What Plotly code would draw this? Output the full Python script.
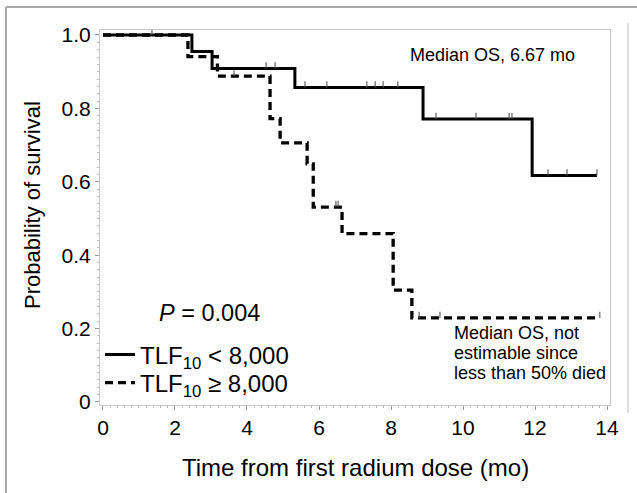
import plotly.graph_objects as go

# ---- data ----
solid_times = [0, 2.47, 3.03, 5.33, 8.89, 11.92, 13.72]
solid_surv = [1.0, 0.955, 0.909, 0.857, 0.771, 0.617, 0.617]
solid_censor = [1.36, 4.53, 4.78, 5.61, 6.22, 7.33, 7.56, 7.78, 8.19,
                9.25, 10.36, 11.28, 11.36, 12.36, 12.89, 13.72]

dashed_times = [0, 2.36, 3.18, 4.64, 4.92, 5.67, 5.84, 6.64, 8.06, 8.58, 13.8]
dashed_surv = [1.0, 0.941, 0.888, 0.772, 0.706, 0.649, 0.531, 0.459, 0.305, 0.229, 0.229]
dashed_censor = [3.64, 6.47, 6.53, 8.78, 9.36, 13.8]

x_ticks = [0, 2, 4, 6, 8, 10, 12, 14]
y_ticks = [0, 0.2, 0.4, 0.6, 0.8, 1.0]
y_ticktext = ["0", "0.2", "0.4", "0.6", "0.8", "1.0"]

name_low = "TLF<sub>10</sub> &lt; 8,000"
name_high = "TLF<sub>10</sub> ≥ 8,000"
note_lines = ["Median OS, not", "estimable since", "less than 50% died"]


def step_value(times, surv, t):
    v = surv[0]
    for ti, si in zip(times, surv):
        if ti <= t:
            v = si
    return v


FONT = "Arial, Liberation Sans, sans-serif"
fig = go.Figure()

fig.add_trace(go.Scatter(x=solid_times, y=solid_surv, mode="lines", line_shape="hv",
                         line=dict(color="black", width=3), name=name_low,
                         legend="legend"))
fig.add_trace(go.Scatter(x=dashed_times, y=dashed_surv, mode="lines", line_shape="hv",
                         line=dict(color="black", width=3.3, dash="8px,5px"), name=name_high,
                         legend="legend2"))

for times, surv, cens in [(solid_times, solid_surv, solid_censor),
                          (dashed_times, dashed_surv, dashed_censor)]:
    fig.add_trace(go.Scatter(
        x=cens, y=[step_value(times, surv, c) for c in cens], mode="markers",
        marker=dict(size=1, color="rgba(0,0,0,0)"),
        error_y=dict(type="data", symmetric=False, array=[0.017] * len(cens),
                     arrayminus=[0] * len(cens), width=0, thickness=1.1, color="#555"),
        showlegend=False, hoverinfo="skip"))

W, H = 637, 493
L, R, T, B = 100, 27, 30, 88
pw, ph = W - L - R, H - T - B


def px(xp):
    return (xp - L) / pw


def py(yp):
    return (H - B - yp) / ph


legend_common = dict(xanchor="left", yanchor="middle", bgcolor="rgba(0,0,0,0)",
                     font=dict(size=24, family=FONT), itemwidth=30)

annotations = [
    dict(text="Probability of survival", xref="paper", yref="paper",
         x=px(32), y=py(205), xanchor="center", yanchor="middle", textangle=-90,
         showarrow=False, font=dict(size=22)),
    dict(text="Time from first radium dose (mo)", xref="paper", yref="paper",
         x=px(355), y=py(467), xanchor="center", yanchor="middle", showarrow=False,
         font=dict(size=24)),
    dict(text="Median OS, 6.67 mo", xref="paper", yref="paper",
         x=px(492), y=py(55), xanchor="center", yanchor="middle", showarrow=False,
         font=dict(size=18)),
    dict(text="<i>P</i> = 0.004", xref="paper", yref="paper",
         x=px(209), y=py(313), xanchor="center", yanchor="middle", showarrow=False,
         font=dict(size=23.5)),
]
for i, line in enumerate(note_lines):
    annotations.append(dict(text=line, xref="paper", yref="paper",
                            x=px(452), y=py(333 + 20 * i), xanchor="left",
                            yanchor="middle", showarrow=False, font=dict(size=18)))

fig.update_layout(
    width=W, height=H,
    margin=dict(l=L, r=R, t=T, b=B),
    paper_bgcolor="white", plot_bgcolor="white",
    font=dict(family=FONT, color="black"),
    showlegend=True,
    legend=dict(x=px(100), y=py(355), **legend_common),
    legend2=dict(x=px(100), y=py(383), **legend_common),
    xaxis=dict(range=[-0.083, 14.083], tickvals=x_ticks, ticks="outside", ticklen=4,
               tickcolor="#999", tickfont=dict(size=21), showgrid=False, zeroline=False,
               showline=True, linecolor="#c8c8c8", linewidth=1, mirror=True,
               minor=dict(dtick=0.2, ticks="outside", ticklen=2, tickcolor="#bbb")),
    yaxis=dict(range=[-0.0082, 1.0136], tickvals=y_ticks, ticktext=y_ticktext,
               ticks="outside", ticklen=4, tickcolor="#999", tickfont=dict(size=21),
               showgrid=False, zeroline=False, showline=True, linecolor="#c8c8c8",
               linewidth=1, mirror=True,
               minor=dict(dtick=0.02, ticks="outside", ticklen=2, tickcolor="#bbb")),
    annotations=annotations,
    shapes=[
        dict(type="line", xref="paper", yref="paper", x0=px(6), x1=px(637),
             y0=py(7), y1=py(7), line=dict(color="#a8a8a8", width=2)),
        dict(type="line", xref="paper", yref="paper", x0=px(6), x1=px(6),
             y0=py(7), y1=py(493), line=dict(color="#a8a8a8", width=2)),
        dict(type="line", xref="paper", yref="paper", x0=px(628), x1=px(628),
             y0=py(23), y1=py(413), line=dict(color="#d4d4d4", width=1.5)),
    ],
)

fig.write_html("out.html", config={"displayModeBar": False},
               post_script="document.body.style.margin='0';document.body.style.padding='0';")
